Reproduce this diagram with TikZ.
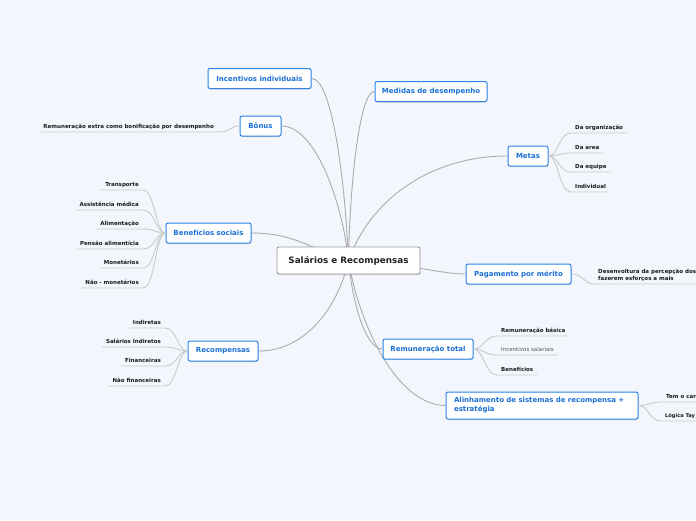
\documentclass[tikz,border=0pt]{standalone}
\usepackage{fontspec}
\setmainfont{DejaVu Sans}
\usetikzlibrary{shadows}
\definecolor{bgc}{HTML}{F3F6FD}
\definecolor{topicblue}{HTML}{2C84E6}
\definecolor{topictext}{HTML}{1A6FD6}
\definecolor{rootborder}{HTML}{9A9A9A}
\definecolor{roottext}{HTML}{222222}
\definecolor{mainline}{HTML}{ABABAB}
\definecolor{leafline}{HTML}{CACACA}
\definecolor{leaftext}{HTML}{1A1A1A}
\definecolor{plaintext}{HTML}{555555}
\pgfdeclarelayer{bg}\pgfdeclarelayer{edges}\pgfsetlayers{bg,edges,main}
\tikzset{
  softshadow/.style={drop shadow={shadow xshift=0.4pt, shadow yshift=-1pt, opacity=0.25, fill=black!60}},
  root/.style={draw=rootborder, line width=0.9pt, fill=white, rounded corners=2pt,
    font=\fontsize{8.8}{10}\selectfont\bfseries, text=roottext,
    minimum width=143pt, minimum height=27pt, inner sep=0pt, softshadow},
  topic/.style={draw=topicblue, line width=1pt, fill=white, rounded corners=2pt,
    font=\fontsize{7}{9}\selectfont\bfseries, text=topictext,
    minimum height=20pt, inner sep=0pt, softshadow},
  leaf/.style={font=\fontsize{5.5}{6.8}\selectfont\bfseries, text=leaftext,
    inner xsep=4pt, inner ysep=2.5pt, text height=3.9pt, text depth=1pt},
  plainleaf/.style={leaf, font=\fontsize{5.5}{6.8}\selectfont, text=plaintext},
  mline/.style={draw=mainline, line width=0.9pt},
  lline/.style={draw=leafline, line width=0.9pt},
}
\begin{document}
\begin{tikzpicture}[x=1pt,y=-1pt]
\path[use as bounding box] (0,0) rectangle (696,520);
\begin{pgfonlayer}{bg}
\fill[bgc] (0,0) rectangle (696,520);
\end{pgfonlayer}
\begin{scope}
\clip (0,0) rectangle (696,520);
% central
\node[root] (c) at (348.5,260.5) {Salários e Recompensas};
% topics
\node[topic, minimum width=103pt] (inc) at (259.5,78.5) {Incentivos individuais};
\node[topic, minimum width=112pt] (med) at (431,91.5) {Medidas de desempenho};
\node[topic, minimum width=41pt] (bon) at (260.5,126) {Bônus};
\node[topic, minimum width=40pt] (met) at (528,156) {Metas};
\node[topic, minimum width=85pt] (ben) at (208.5,233) {Benefícios sociais};
\node[topic, minimum width=105pt] (pag) at (518.5,274) {Pagamento por mérito};
\node[topic, minimum width=70pt] (rec) at (223,351) {Recompensas};
\node[topic, minimum width=90pt] (rem) at (428,349) {Remuneração total};
\node[topic, minimum width=192pt, minimum height=27pt, text width=176pt, align=left, inner xsep=8pt] (ali) at (542,405.5)
  {Alinhamento de sistemas de recompensa +\\estratégia};
% main connectors
\begin{pgfonlayer}{edges}
\draw[mline] (inc.east) .. controls (332,78) and (345,180) .. (c.center);
\draw[mline] (bon.east) .. controls (315,126) and (342,200) .. (c.center);
\draw[mline] (med.west) .. controls (360,91) and (350,180) .. (c.center);
\draw[mline] (met.west) .. controls (430,156) and (370,200) .. (c.center);
\draw[mline] (ben.east) .. controls (300,233) and (320,255) .. (c.center);
\draw[mline] (pag.west) .. controls (440,274) and (400,262) .. (c.center);
\draw[mline] (rec.east) .. controls (310,351) and (340,300) .. (c.center);
\draw[mline] (rem.west) .. controls (365,349) and (352,300) .. (c.center);
\draw[mline] (ali.west) .. controls (395,405) and (358,320) .. (c.center);
\end{pgfonlayer}
% Bonus leaf
\node[leaf, anchor=south east] (b1) at (218,132) {Remuneração extra como bonificação por desempenho};
\draw[lline] (b1.south west) -- (b1.south east) .. controls +(14,0) and +(-10,0) .. (bon.west);
% Beneficios leaves
\node[leaf, anchor=south east] (s1) at (143,190) {Transporte};
\node[leaf, anchor=south east] (s2) at (143,210) {Assistência médica};
\node[leaf, anchor=south east] (s3) at (143,229) {Alimentação};
\node[leaf, anchor=south east] (s4) at (143,249) {Pensão alimentícia};
\node[leaf, anchor=south east] (s5) at (143,268) {Monetários};
\node[leaf, anchor=south east] (s6) at (143,288) {Não - monetários};
\foreach \n in {s1,s2,s3,s4,s5,s6}{
  \draw[lline] (\n.south west) -- (\n.south east) .. controls +(12,0) and +(-10,0) .. (ben.west);
}
% Recompensas leaves
\node[leaf, anchor=south east] (r1) at (165,328) {Indiretas};
\node[leaf, anchor=south east] (r2) at (165,347) {Salários Indiretos};
\node[leaf, anchor=south east] (r3) at (165,366) {Financeiras};
\node[leaf, anchor=south east] (r4) at (165,386) {Não financeiras};
\foreach \n in {r1,r2,r3,r4}{
  \draw[lline] (\n.south west) -- (\n.south east) .. controls +(12,0) and +(-10,0) .. (rec.west);
}
% Metas leaves
\node[leaf, anchor=south west] (m1) at (571,133) {Da organização};
\node[leaf, anchor=south west] (m2) at (571,153) {Da area};
\node[leaf, anchor=south west] (m3) at (571,172) {Da equipe};
\node[leaf, anchor=south west] (m4) at (571,192) {Individual};
\foreach \n in {m1,m2,m3,m4}{
  \draw[lline] (met.east) .. controls +(10,0) and +(-12,0) .. (\n.south west) -- (\n.south east);
}
% Pagamento leaf
\node[leaf, anchor=south west, align=left] (p1) at (594,284)
  {Desenvoltura da percepção dos\\fazerem esforços a mais};
\draw[lline] (pag.east) .. controls +(12,0) and +(-10,0) .. (p1.south west) -- (p1.south east);
% Remuneracao total leaves
\node[leaf, anchor=south west] (t1) at (497,336) {Remuneração básica};
\node[plainleaf, anchor=south west] (t2) at (497,355) {Incentivos salariais};
\node[leaf, anchor=south west] (t3) at (497,375) {Benefícios};
\foreach \n in {t1,t2,t3}{
  \draw[lline] (rem.east) .. controls +(10,0) and +(-12,0) .. (\n.south west) -- (\n.south east);
}
% Alinhamento leaves (at the picture's edge, as in the reference)
\node[leaf, anchor=south west] (a1) at (662,402) {Tem o car};
\node[leaf, anchor=south west, font=\fontsize{5.1}{6.5}\selectfont\bfseries] (a2) at (661,421) {Lógica Tay};
\draw[lline] (ali.east) .. controls +(10,0) and +(-12,0) .. (a1.south west) -- (696,402);
\draw[lline] (ali.east) .. controls +(10,0) and +(-12,0) .. (a2.south west) -- (696,421);
\end{scope}
\end{tikzpicture}
\end{document}
